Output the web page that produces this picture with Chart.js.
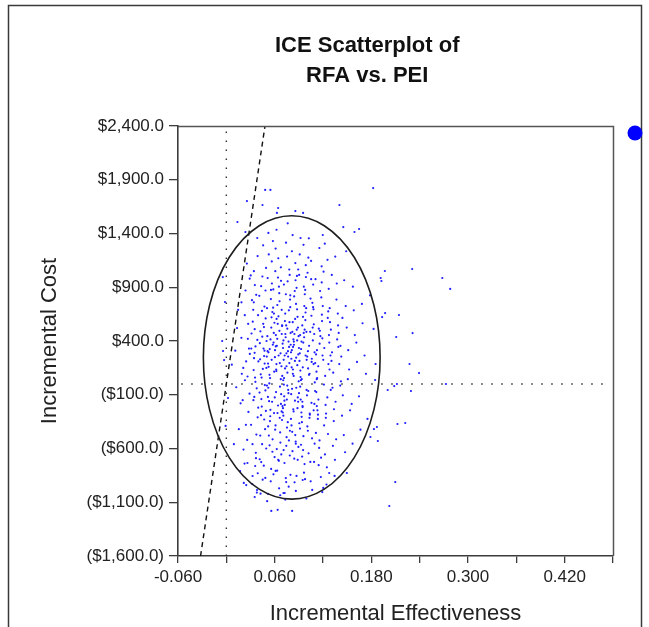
<!DOCTYPE html>
<html>
<head>
<meta charset="utf-8">
<script src="https://cdn.jsdelivr.net/npm/chart.js@4.4.1/dist/chart.umd.min.js"></script>
<style>
  html, body { margin: 0; padding: 0; background: #fff; }
  #wrap { width: 649px; height: 627px; }
</style>
</head>
<body>
<div id="wrap"><canvas id="c" width="649" height="627"></canvas></div>
<script>
// ---------- data ----------
const titleLines = ['ICE Scatterplot of', 'RFA vs. PEI'];
const xAxisTitle = 'Incremental Effectiveness';
const yAxisTitle = 'Incremental Cost';

const xTickValues = [-0.06, 0, 0.06, 0.12, 0.18, 0.24, 0.30, 0.36, 0.42, 0.48];
const xTickLabels = ['-0.060', '', '0.060', '', '0.180', '', '0.300', '', '0.420', ''];
const yTickValues = [-1600, -1100, -600, -100, 400, 900, 1400, 1900, 2400];
const yTickLabels = ['($1,600.0)', '($1,100.0)', '($600.0)', '($100.0)', '$400.0', '$900.0', '$1,400.0', '$1,900.0', '$2,400.0'];

// willingness-to-pay threshold line ($50,000 per unit effectiveness)
const wtpLine = [[-0.032, -1600], [0.048, 2400]];
const zeroEffectLine = [[0, -1600], [0, 2400]];
const zeroCostLine = [[-0.056, 0], [0.47, 0]];
// confidence ellipse: centre effect, centre cost, half-width (effect), half-height (cost)
const ellipseParams = [0.0812, 247, 0.1097, 1318];

// simulated incremental (effect, cost) pairs
const scatterPoints = [
[0.0133,520],[0.0177,-180],[0.0111,310],[0.0188,760],[0.0155,-420],[0.0192,95],
[0.0068,180],[0.0094,-560],[0.0123,-30],[0.0146,690],[0.0171,-810],[0.0187,430],
[0.0229,640],[0.0274,-260],[0.0246,210],[0.0290,980],[0.0213,-610],[0.0267,420],[0.0231,35],[0.0288,-90],[0.0255,1120],[0.0292,280],[0.0226,-740],[0.0271,560],[0.0243,-380],[0.0210,150],
[0.0203,-150],[0.0238,870],[0.0259,-520],[0.0281,330],[0.0217,-920],[0.0263,70],
[0.0313,470],[0.0347,-120],[0.0371,830],[0.0398,210],[0.0325,-560],[0.0362,350],[0.0389,-310],[0.0334,690],[0.0356,60],[0.0390,-830],[0.0303,1010],[0.0344,240],[0.0377,-40],[0.0328,580],[0.0385,410],[0.0368,-690],[0.0339,130],[0.0354,920],[0.0396,-220],[0.0310,330],[0.0373,-470],[0.0341,760],[0.0361,20],[0.0388,1190],[0.0321,-930],[0.0352,510],[0.0336,-150],[0.0394,640],
[0.0307,-380],[0.0342,1050],[0.0366,-640],[0.0318,780],[0.0379,-1010],[0.0351,290],
[0.0416,380],[0.0440,-210],[0.0473,720],[0.0497,150],[0.0421,-480],[0.0458,560],[0.0485,-60],[0.0432,910],[0.0469,260],[0.0414,-700],[0.0446,440],[0.0470,-330],[0.0493,1080],[0.0427,90],[0.0451,-890],[0.0488,610],[0.0435,-140],[0.0462,330],[0.0409,820],[0.0444,-560],[0.0476,190],[0.0491,-250],[0.0423,490],[0.0457,1290],[0.0481,-420],[0.0438,60],[0.0465,-760],[0.0419,230],[0.0442,680],[0.0478,-10],[0.0499,400],[0.0425,-1020],[0.0453,140],[0.0486,870],[0.0431,-290],[0.0467,530],[0.0412,-80],[0.0448,1000],[0.0474,310],[0.0495,-600],
[0.0523,295],[0.0568,-165],[0.0591,655],[0.0536,85],[0.0574,-515],[0.0509,445],[0.0542,-345],[0.0583,880],[0.0518,190],[0.0556,-790],
[0.0597,570],[0.0521,-35],[0.0564,1140],[0.0539,325],[0.0572,-630],[0.0505,705],[0.0547,-240],[0.0586,385],[0.0513,985],[0.0551,-905],
[0.0594,115],[0.0528,-480],[0.0561,620],[0.0534,5],[0.0578,1330],[0.0502,255],[0.0545,-300],[0.0589,475],[0.0516,-120],[0.0553,790],
[0.0599,-680],[0.0525,160],[0.0566,935],[0.0531,-160],[0.0577,365],[0.0507,-1090],[0.0543,55],[0.0581,710],[0.0519,-395],[0.0558,525],
[0.0592,-270],[0.0527,1205],[0.0563,225],[0.0537,-570],[0.0571,670],[0.0504,-15],[0.0548,415],[0.0585,-840],[0.0512,305],[0.0554,875],
[0.0614,350],[0.0642,-200],[0.0687,690],[0.0621,120],[0.0668,-450],[0.0693,540],[0.0635,-270],[0.0679,960],[0.0603,250],[0.0652,-715],
[0.0688,465],[0.0617,-75],[0.0645,1170],[0.0673,285],[0.0626,-605],[0.0661,770],[0.0697,-205],[0.0632,420],[0.0608,1050],[0.0655,-970],
[0.0684,165],[0.0611,-385],[0.0647,630],[0.0676,45],[0.0623,1435],[0.0664,195],[0.0691,-335],[0.0638,560],[0.0601,-125],[0.0657,845],
[0.0682,-655],[0.0619,135],[0.0641,990],[0.0678,-185],[0.0627,355],[0.0669,-1035],[0.0694,75],[0.0633,735],[0.0606,-425],[0.0659,495],
[0.0686,-255],[0.0612,1260],[0.0649,265],[0.0671,-545],[0.0624,605],[0.0666,-25],[0.0699,375],[0.0631,-805],[0.0604,315],[0.0653,905],
[0.0681,-95],[0.0615,455],[0.0644,-705],[0.0677,1085],[0.0622,185],[0.0663,-315],[0.0692,545],[0.0637,-1170],
[0.0724,265],[0.0751,-145],[0.0793,715],[0.0716,55],[0.0748,-495],[0.0772,395],[0.0703,-225],[0.0739,835],[0.0765,305],[0.0788,-665],
[0.0727,585],[0.0756,-15],[0.0781,1065],[0.0712,225],[0.0744,-575],[0.0776,685],[0.0708,-295],[0.0733,465],[0.0761,955],[0.0796,-845],
[0.0729,145],[0.0753,-405],[0.0784,575],[0.0714,-5],[0.0741,1315],[0.0779,345],[0.0701,-265],[0.0736,435],[0.0768,-55],[0.0791,785],
[0.0722,-735],[0.0758,105],[0.0786,1015],[0.0718,-115],[0.0746,285],[0.0774,-955],[0.0706,35],[0.0731,655],[0.0763,-355],[0.0798,475],
[0.0725,-195],[0.0754,1185],[0.0782,195],[0.0711,-615],[0.0743,545],[0.0771,-85],[0.0709,405],[0.0738,-875],[0.0767,255],[0.0794,825],
[0.0721,-155],[0.0757,515],[0.0789,-435],[0.0715,925],[0.0747,165],[0.0777,-525],[0.0704,335],[0.0732,-1075],[0.0762,1495],[0.0799,365],
[0.0813,315],[0.0852,-155],[0.0884,625],[0.0826,95],[0.0861,-535],[0.0897,445],[0.0835,-255],[0.0872,895],[0.0807,235],[0.0843,-695],
[0.0889,525],[0.0816,-45],[0.0857,1125],[0.0893,275],[0.0821,-625],[0.0865,745],[0.0802,-325],[0.0838,395],[0.0876,1005],[0.0847,-915],
[0.0881,175],[0.0818,-445],[0.0854,605],[0.0898,25],[0.0823,1385],[0.0867,245],[0.0831,-235],[0.0874,505],[0.0805,-95],[0.0842,815],
[0.0886,-705],[0.0811,155],[0.0859,965],[0.0891,-165],[0.0828,345],[0.0863,-995],[0.0836,75],[0.0878,695],[0.0809,-385],[0.0845,465],
[0.0883,-225],[0.0814,1235],[0.0851,215],[0.0895,-585],[0.0824,575],[0.0868,-35],[0.0833,415],[0.0871,-855],[0.0803,295],[0.0849,865],
[0.0887,-125],[0.0819,485],[0.0856,-475],[0.0892,1065],[0.0827,135],[0.0862,-555],[0.0839,365],[0.0879,405],
[0.0912,285],[0.0946,-205],[0.0983,665],[0.0921,65],[0.0957,-485],[0.0994,485],[0.0935,-305],[0.0962,905],[0.0908,215],[0.0971,-745],
[0.0943,545],[0.0917,-25],[0.0986,1105],[0.0928,325],[0.0953,-615],[0.0991,705],[0.0932,-265],[0.0966,435],[0.0904,1015],[0.0977,-885],
[0.0949,155],[0.0914,-415],[0.0981,595],[0.0925,35],[0.0958,1295],[0.0997,225],[0.0938,-355],[0.0961,475],[0.0902,-85],[0.0974,835],
[0.0941,-675],[0.0919,125],[0.0988,995],[0.0923,-145],[0.0955,385],[0.0993,-1065],[0.0936,45],[0.0968,725],[0.0906,-365],[0.0972,505],
[0.0947,-215],[0.0911,1205],[0.0984,265],[0.0927,-565],[0.0952,625],[0.0996,-55],[0.0933,395],[0.0964,-825],[0.0901,335],[0.0979,875],
[0.0944,-165],[0.0916,455],
[0.1013,305],[0.1057,-175],[0.1082,695],[0.1026,85],[0.1064,-505],[0.1091,465],[0.1035,-275],[0.1078,925],[0.1004,255],[0.1043,-725],
[0.1086,555],[0.1017,-65],[0.1052,1145],[0.1095,295],[0.1021,-645],[0.1068,755],[0.1032,-315],[0.1074,405],[0.1008,1035],[0.1047,-905],
[0.1083,185],[0.1012,-435],[0.1056,635],[0.1098,15],[0.1024,1355],[0.1061,235],[0.1037,-285],[0.1072,525],[0.1001,-105],[0.1045,795],
[0.1089,-725],[0.1015,145],[0.1053,975],[0.1093,-185],[0.1027,355],[0.1066,-985],[0.1033,95],[0.1077,715],[0.1006,-395],[0.1041,485],
[0.1084,-245],[0.1018,1175],[0.1059,205],[0.1096,-555],
[0.1114,275],[0.1143,-145],[0.1186,645],[0.1122,45],[0.1157,-525],[0.1192,425],[0.1138,-285],[0.1164,865],[0.1103,195],[0.1176,-685],
[0.1148,515],[0.1117,-75],[0.1183,1095],[0.1125,315],[0.1152,-595],[0.1197,725],[0.1131,-245],[0.1168,445],[0.1107,975],[0.1173,-865],
[0.1141,165],[0.1112,-455],[0.1188,585],[0.1127,55],[0.1155,1265],[0.1194,265],[0.1136,-325],[0.1161,495],[0.1102,-65],[0.1179,805],
[0.1146,-755],[0.1119,115],[0.1184,945],[0.1123,-205],[0.1158,375],[0.1191,-1005],
[0.1216,335],[0.1254,-125],[0.1283,705],[0.1227,75],[0.1262,-465],[0.1298,505],[0.1235,-315],[0.1271,885],[0.1203,225],[0.1248,-775],
[0.1287,575],[0.1211,-5],[0.1256,1155],[0.1293,265],[0.1224,-655],[0.1265,675],[0.1232,-195],[0.1278,385],[0.1207,1045],[0.1243,-935],
[0.1281,135],[0.1214,-385],[0.1259,615],[0.1296,-55],[0.1222,1305],[0.1267,185],[0.1238,-275],[0.1274,455],
[0.1312,295],[0.1356,-165],[0.1384,655],[0.1327,105],[0.1363,-515],[0.1395,475],[0.1336,-235],[0.1371,935],[0.1305,215],[0.1348,-705],
[0.1387,545],[0.1318,-35],[0.1352,1185],[0.1391,345],[0.1323,-575],[0.1367,785],[0.1334,-345],[0.1376,415],[0.1309,1015],[0.1344,-855],
[0.1417,355],[0.1446,-105],[0.1482,725],[0.1423,25],[0.1458,-475],[0.1494,525],[0.1436,-295],[0.1463,965],[0.1402,185],[0.1474,-635],
[0.1441,615],[0.1414,-15],[0.1488,1235],[0.1427,255],
[0.1513,315],[0.1556,-185],[0.1582,685],[0.1524,135],[0.1567,-555],[0.1595,455],[0.1536,-245],[0.1571,905],[0.1508,45],
[0.1614,385],[0.1647,-115],[0.1683,745],[0.1622,205],[0.1665,-425],[0.1691,565],
[0.1716,265],[0.1752,-325],[0.1784,825],[0.1733,95],
[0.1823,1823],[0.1404,1665],[0.1452,1460],[0.1591,1414],[0.1648,1442],[0.1197,1386],[0.1968,1051],[0.2307,1070],[0.1916,986],[0.1925,958],[0.1971,660],[0.2143,642],[0.1934,623],[0.2109,437],[0.2312,474],[0.1828,512],[0.2681,986],[0.2779,884],[0.2274,186],[0.2392,102],[0.1853,186],[0.2726,0],[0.2003,-56],[0.2118,0],[0.2084,-19],[0.2292,-65],[0.1847,37],[0.2221,-363],[0.2124,-372],[0.1869,-400],[0.1832,-419],[0.1881,-530],[0.1789,-493],[0.2097,-912],[0.2023,-1135],[0.1496,-828],[0.1277,-828],[0.1203,-967],[0.0558,-1181],[0.0817,-1181],[0.0352,-1051],[0.0724,-1014],
[0.0482,1805],[0.0547,1805],[0.0256,1702],[0.0449,1665],[0.0643,1637],[0.0628,1591],[0.0857,1609],[0.0953,1591],[0.0138,1507],[0.0237,1414],[0.0384,1358],[0.0522,1405],[0.0921,1358],
[0.0262,-735],[0.0358,-763],[0.0433,-726],[0.0612,-809],[0.0743,-912],[0.0948,-893],[0.0484,-874],[0.0326,-856],[0.0381,-986],[0.0518,-1023],[0.0709,-1014],[0.0247,-940],
[-0.0041,307],[-0.0028,223],[-0.0052,400],[-0.0017,763],[-0.0044,995],[0.0021,-130],[-0.0009,-390]
];

// ---------- helpers ----------
const toXY = arr => arr.map(p => ({ x: p[0], y: p[1] }));
const AXIS_COLOR = '#3c3c3c';
const TICK_FONT = { family: '"Liberation Sans", Arial, sans-serif', size: 17 };

const decorPlugin = {
  id: 'decor',
  beforeDraw(chart) {
    const c = chart.ctx;
    c.save();
    c.fillStyle = '#ffffff';
    c.fillRect(0, 0, chart.width, chart.height);
    // outer frame
    c.strokeStyle = '#3a3a3a';
    c.lineWidth = 1.5;
    c.beginPath();
    c.moveTo(8.5, chart.height + 2);
    c.lineTo(8.5, 5.5);
    c.lineTo(641.5, 5.5);
    c.lineTo(641.5, chart.height + 2);
    c.stroke();
    c.restore();
  },
  afterDatasetsDraw(chart) {
    const c = chart.ctx, xs = chart.scales.x, ys = chart.scales.y, a = chart.chartArea;
    const [ex, ey, ew, eh] = ellipseParams;
    const cx = xs.getPixelForValue(ex), cy = ys.getPixelForValue(ey);
    const rx = Math.abs(xs.getPixelForValue(ex + ew) - cx);
    const ry = Math.abs(ys.getPixelForValue(ey + eh) - cy);
    c.save();
    c.beginPath();
    c.rect(a.left, a.top, a.right - a.left, a.bottom - a.top);
    c.clip();
    c.strokeStyle = '#1e1e1e';
    c.lineWidth = 1.6;
    c.beginPath();
    c.ellipse(cx, cy, rx, ry, 0, 0, Math.PI * 2);
    c.stroke();
    c.restore();
  },
  afterDraw(chart) {
    const c = chart.ctx, a = chart.chartArea;
    c.save();
    // top & right plot frame
    c.strokeStyle = '#555555';
    c.lineWidth = 1.5;
    c.beginPath();
    c.moveTo(a.left, a.top + 0.5);
    c.lineTo(a.right + 0.5, a.top + 0.5);
    c.lineTo(a.right + 0.5, a.bottom);
    c.stroke();
    // title
    c.fillStyle = '#111';
    c.textAlign = 'center';
    c.textBaseline = 'middle';
    c.font = 'bold 22px "Liberation Sans", Arial, sans-serif';
    const tx = a.left + (a.right - a.left) * 0.435;
    c.fillText(titleLines[0], tx, a.top - 80);
    c.fillText(titleLines[1], tx, a.top - 50);
    // axis titles
    c.font = '22px "Liberation Sans", Arial, sans-serif';
    c.fillStyle = '#222';
    c.fillText(xAxisTitle, (a.left + a.right) / 2, a.bottom + 58);
    c.save();
    c.translate(a.left - 128, (a.top + a.bottom) / 2);
    c.rotate(-Math.PI / 2);
    c.fillText(yAxisTitle, 0, 0);
    c.restore();
    // marker at top right
    c.fillStyle = '#0000ff';
    c.beginPath();
    c.arc(a.right + 22, a.top + 7, 7.5, 0, Math.PI * 2);
    c.fill();
    c.restore();
  }
};

new Chart(document.getElementById('c'), {
  type: 'scatter',
  data: {
    datasets: [
      { data: toXY(wtpLine), showLine: true, borderColor: '#111', borderWidth: 1.4, borderDash: [5, 4], pointRadius: 0, fill: false },
      { data: toXY(zeroEffectLine), showLine: true, borderColor: '#333', borderWidth: 1.4, borderDash: [1.5, 7.5], pointRadius: 0, fill: false },
      { data: toXY(zeroCostLine), showLine: true, borderColor: '#333', borderWidth: 1.4, borderDash: [1.5, 8.5], pointRadius: 0, fill: false },
      { data: toXY(scatterPoints), showLine: false, pointRadius: 1.1, pointBorderWidth: 0, pointBackgroundColor: '#1f1fff', pointHoverRadius: 1.1 }
    ]
  },
  options: {
    responsive: false,
    animation: false,
    events: [],
    layout: { padding: { top: 126, right: 36, left: 0, bottom: 0 } },
    plugins: { legend: { display: false }, tooltip: { enabled: false }, title: { display: false } },
    scales: {
      x: {
        type: 'linear', min: -0.06, max: 0.48,
        afterBuildTicks: s => { s.ticks = xTickValues.map(v => ({ value: v })); },
        afterFit: s => { s.height = 71; },
        ticks: { autoSkip: false, maxRotation: 0, padding: 4, color: '#222', font: TICK_FONT,
                 callback: (v, i) => xTickLabels[i] },
        grid: { display: true, drawOnChartArea: false, drawTicks: true, tickLength: 7, color: AXIS_COLOR, lineWidth: 1.3 },
        border: { display: true, color: AXIS_COLOR, width: 1.6 }
      },
      y: {
        type: 'linear', min: -1600, max: 2400,
        afterBuildTicks: s => { s.ticks = yTickValues.map(v => ({ value: v })); },
        afterFit: s => { s.width = 178; },
        ticks: { autoSkip: false, padding: 5, color: '#222', font: TICK_FONT,
                 callback: (v, i) => yTickLabels[i] },
        grid: { display: true, drawOnChartArea: false, drawTicks: true, tickLength: 9, color: AXIS_COLOR, lineWidth: 1.3 },
        border: { display: true, color: AXIS_COLOR, width: 1.6 }
      }
    }
  },
  plugins: [decorPlugin]
});
</script>
</body>
</html>
